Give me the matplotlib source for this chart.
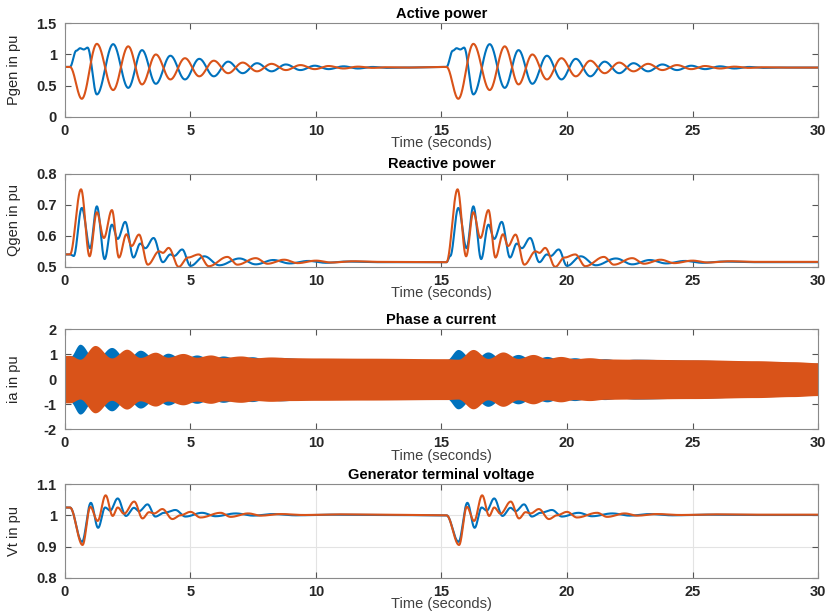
import numpy as np
import matplotlib
matplotlib.use("Agg")
import matplotlib.pyplot as plt

plt.rcParams['font.family'] = ['Liberation Sans', 'DejaVu Sans']

BLUE = '#0072BD'
ORANGE = '#D95319'

# the two disturbances start at these times (s); the second one repeats the first
onsets = [0.2, 15.2]
t_end = 30

# ---- Active power: key points (time after the first onset in abs. seconds, value)
p_pre = [0.80, 0.80]
p_blue_t = [0.45, 0.6, 0.75, 0.9, 1.27, 1.92, 2.52, 3.07, 3.62, 4.2, 4.78, 5.35, 5.93, 6.5,
            7.08, 7.65, 8.23, 8.8, 9.38, 9.95, 10.5, 11.1, 11.67, 12.25, 12.8, 13.5]
p_blue_v = [1.06, 1.10, 1.08, 1.11, 0.36, 1.165, 0.465, 1.07, 0.53, 0.98, 0.60, 0.93, 0.65, 0.885,
            0.70, 0.86, 0.73, 0.84, 0.75, 0.82, 0.765, 0.81, 0.775, 0.80, 0.785, 0.79]
p_orange_t = [0.67, 1.27, 1.92, 2.52, 3.07, 3.62, 4.2, 4.78, 5.35, 5.93, 6.5, 7.08, 7.65,
              8.23, 8.8, 9.38, 9.95, 10.5, 11.1, 11.67, 12.25, 12.8, 13.5]
p_orange_v = [0.29, 1.17, 0.43, 1.13, 0.52, 1.00, 0.60, 0.94, 0.65, 0.90, 0.70, 0.87, 0.73,
              0.85, 0.75, 0.83, 0.765, 0.815, 0.775, 0.805, 0.785, 0.795, 0.79]

# ---- Reactive power
q_pre = [0.54, 0.515]
q_blue_t = [0.35, 0.67, 1.0, 1.27, 1.58, 1.87, 2.1, 2.4, 2.73, 3.0, 3.2, 3.53, 3.9, 4.2, 4.35,
            4.67, 5.0, 5.55, 6.15, 6.95, 7.6, 8.3, 8.95, 9.7, 10.4, 11.2, 12.5]
q_blue_v = [0.535, 0.69, 0.56, 0.695, 0.525, 0.636, 0.59, 0.645, 0.53, 0.575, 0.56, 0.593, 0.515,
            0.54, 0.535, 0.556, 0.503, 0.534, 0.505, 0.527, 0.508, 0.522, 0.511, 0.519, 0.513,
            0.517, 0.515]
q_orange_t = [0.64, 0.98, 1.27, 1.55, 1.87, 2.15, 2.45, 2.65, 2.95, 3.3, 3.75, 3.9, 4.13, 4.53,
              4.9, 5.33, 5.73, 6.47, 6.87, 7.6, 8.07, 8.73, 9.27, 10.0, 10.6, 11.5, 12.5]
q_orange_v = [0.75, 0.534, 0.676, 0.593, 0.683, 0.53, 0.605, 0.567, 0.604, 0.507, 0.55, 0.545,
              0.561, 0.50, 0.53, 0.54, 0.502, 0.532, 0.507, 0.528, 0.51, 0.523, 0.512, 0.52,
              0.514, 0.518, 0.516]

# ---- Phase a current: upper envelope of the 50 Hz band (key points over 0-30 s)
ia_blue_t = [0, 0.2, 0.6, 1.2, 1.86, 2.46, 3.0, 3.6, 4.1, 4.7, 5.25, 5.8, 6.3, 6.9, 7.45, 8.0,
             8.6, 9.5, 12.0, 15.2, 15.66, 16.26, 16.85, 17.45, 18.05, 18.65, 19.2, 19.75,
             20.3, 20.9, 21.5, 22.1, 22.7, 25.0, 28.0, 30.0]
ia_blue_v = [0.90, 0.90, 1.40, 0.75, 1.27, 0.78, 1.16, 0.80, 1.04, 0.80, 0.97, 0.80, 0.93, 0.80,
             0.90, 0.80, 0.87, 0.82, 0.80, 0.78, 1.19, 0.75, 1.09, 0.76, 0.99, 0.76, 0.91, 0.76,
             0.86, 0.76, 0.82, 0.76, 0.80, 0.76, 0.70, 0.64]
ia_orange_t = [0, 0.2, 0.6, 1.2, 1.86, 2.46, 3.0, 3.6, 4.1, 4.7, 5.25, 5.8, 6.3, 7.0, 7.6,
               8.2, 9.0, 10.0, 12.0, 15.2, 15.66, 16.26, 16.85, 17.45, 18.05, 18.65, 19.2,
               19.75, 20.3, 20.9, 21.5, 22.5, 25.0, 27.5, 29.0, 30.0]
ia_orange_v = [0.95, 0.95, 0.80, 1.35, 0.85, 1.20, 0.87, 1.08, 0.88, 1.03, 0.88, 0.97, 0.87,
               0.93, 0.86, 0.89, 0.86, 0.85, 0.84, 0.82, 0.80, 1.19, 0.83, 1.09, 0.83, 0.99,
               0.83, 0.91, 0.82, 0.86, 0.81, 0.80, 0.78, 0.74, 0.70, 0.66]

# ---- Generator terminal voltage
vt_pre = [1.025, 1.0]
vt_blue_t = [0.68, 1.03, 1.32, 1.6, 1.8, 2.1, 2.43, 2.75, 2.95, 3.29, 3.6, 3.95, 4.4, 4.8,
             5.46, 6.0, 6.8, 7.5, 8.3, 9.2, 10.5, 12.5]
vt_blue_v = [0.915, 1.04, 0.96, 1.025, 1.015, 1.054, 0.998, 1.024, 1.013, 1.035, 0.996, 1.008,
             1.017, 0.996, 1.008, 0.997, 1.006, 0.999, 1.004, 1.0, 1.002, 1.001]
vt_orange_t = [0.7, 1.01, 1.3, 1.62, 1.9, 2.1, 2.35, 2.76, 3.09, 3.35, 3.55, 3.88, 4.28, 4.6,
               5.0, 5.4, 6.2, 6.6, 7.3, 7.8, 8.6, 9.5, 11.0, 12.5]
vt_orange_v = [0.905, 1.027, 0.982, 1.064, 0.998, 1.025, 1.005, 1.044, 0.99, 1.01, 1.006, 1.02,
               0.988, 1.0, 1.011, 0.993, 1.008, 0.995, 1.006, 0.999, 1.004, 1.001, 1.003, 1.002]


def smooth(tk, vk, n=40):
    # half-cosine joins between the read key points (flat slope at each extremum)
    ts, vs = [], []
    for i in range(len(tk) - 1):
        s = np.linspace(0, 1, n, endpoint=False)
        w = (1 - np.cos(np.pi * s)) / 2
        ts.append(tk[i] + (tk[i + 1] - tk[i]) * s)
        vs.append(vk[i] + (vk[i + 1] - vk[i]) * w)
    ts.append([tk[-1]])
    vs.append([vk[-1]])
    return np.concatenate(ts), np.concatenate(vs)


def build(pre, et, ev):
    # the same response after both onsets, key times given relative to the first onset
    tk, vk = [0.0], [pre[0]]
    for k, t0 in enumerate(onsets):
        tk.append(t0)
        vk.append(pre[k])
        for t, v in zip(et, ev):
            tk.append(t0 + t - onsets[0])
            vk.append(v)
    tk.append(t_end)
    vk.append(vk[-1])
    return smooth(tk, vk)


fig = plt.figure(figsize=(8.33, 6.12), dpi=100)
boxes = [(0.078, 0.809, 0.904, 0.153),
         (0.078, 0.564, 0.904, 0.152),
         (0.078, 0.299, 0.904, 0.163),
         (0.078, 0.056, 0.904, 0.153)]
axes = [fig.add_axes(b) for b in boxes]

ax = axes[0]
ax.plot(*build(p_pre, p_blue_t, p_blue_v), color=BLUE, lw=1.5)
ax.plot(*build(p_pre, p_orange_t, p_orange_v), color=ORANGE, lw=1.5)
ax.set_ylim(0, 1.5)
ax.set_yticks([0, 0.5, 1, 1.5])
ax.set_yticklabels(['0', '0.5', '1', '1.5'])
ax.set_ylabel('Pgen in pu')
ax.set_title('Active power')

ax = axes[1]
ax.plot(*build(q_pre, q_blue_t, q_blue_v), color=BLUE, lw=1.5)
ax.plot(*build(q_pre, q_orange_t, q_orange_v), color=ORANGE, lw=1.5)
ax.set_ylim(0.5, 0.8)
ax.set_yticks([0.5, 0.6, 0.7, 0.8])
ax.set_ylabel('Qgen in pu')
ax.set_title('Reactive power')

ax = axes[2]
tb, eb = smooth(ia_blue_t, ia_blue_v)
to, eo = smooth(ia_orange_t, ia_orange_v)
ax.fill_between(tb, -eb, eb, color=BLUE, lw=0)
ax.fill_between(to, -eo, eo, color=ORANGE, lw=0)
ax.set_ylim(-2, 2)
ax.set_yticks([-2, -1, 0, 1, 2])
ax.set_yticklabels(['-2', '-1', '0', '1', '2'])
ax.set_ylabel('ia in pu')
ax.set_title('Phase a current')

ax = axes[3]
ax.grid(True, color='#e3e3e3', lw=0.8)
ax.plot(*build(vt_pre, vt_blue_t, vt_blue_v), color=BLUE, lw=1.5)
ax.plot(*build(vt_pre, vt_orange_t, vt_orange_v), color=ORANGE, lw=1.5)
ax.set_ylim(0.8, 1.1)
ax.set_yticks([0.8, 0.9, 1, 1.1])
ax.set_yticklabels(['0.8', '0.9', '1', '1.1'])
ax.set_ylabel('Vt in pu')
ax.set_title('Generator terminal voltage')

for ax in axes:
    ax.set_xlim(0, 30)
    ax.set_xticks([0, 5, 10, 15, 20, 25, 30])
    ax.set_axisbelow(True)
    ax.tick_params(direction='in', top=True, right=True, length=4, width=0.8,
                   color='#555555', labelsize=10.5)
    ax.tick_params(axis='x', pad=5)
    ax.tick_params(axis='y', pad=6)
    for lab in ax.get_xticklabels() + ax.get_yticklabels():
        lab.set_fontweight('bold')
        lab.set_color('#262626')
    for sp in ax.spines.values():
        sp.set_color('#8a8a8a')
        sp.set_linewidth(0.8)
    ax.set_xlabel('Time (seconds)', fontsize=10.5, color='#404040', labelpad=-1)
    ax.set_ylabel(ax.get_ylabel(), fontsize=10.5, color='#262626')
    ax.yaxis.set_label_coords(-0.058, 0.5)
    ax.set_title(ax.get_title(), fontweight='bold', fontsize=10.5, pad=4)

fig.savefig('out.png', dpi=100)
